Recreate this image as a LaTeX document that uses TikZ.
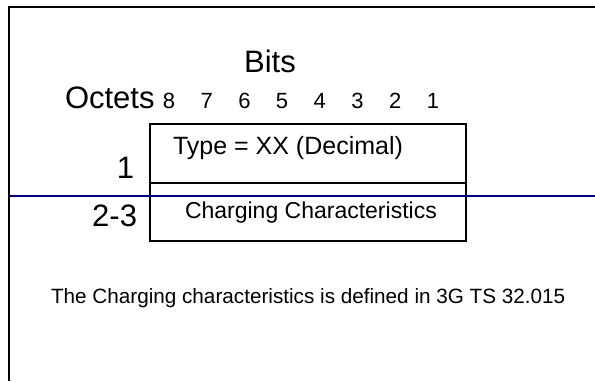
\documentclass[tikz,border=0pt]{standalone}
\usepackage{fontspec}
\setmainfont{Liberation Sans}
\usetikzlibrary{calc}
\definecolor{ruleblue}{RGB}{0,0,128}
\def\fs#1{\fontsize{#1}{#1}\selectfont}

\begin{document}
\begin{tikzpicture}[x=1pt, y=-1pt,
		txt/.style={inner sep=0pt, outer sep=0pt},
		big/.style={txt, font=\fs{31}},
		bit/.style={txt, anchor=base, font=\fs{22}}]
			%%%%% START %%%%%
			\useasboundingbox (0, 0) rectangle (595, 381);
			
			\draw[line width=2pt] (9, 381) -- (9, 6.5) -- (595, 6.5);
			
			\node[big, anchor=base] (bits) at (270, 72) {Bits};
			\node[big, anchor=base west] (octets) at (65, 108) {Octets};
			\foreach \b [count=\i from 0] in {8,7,6,5,4,3,2,1}
				\node[bit] (bit\b) at (169 + 37.7*\i, 108) {\b};
			
			\draw[line width=1.1pt] (150, 124) rectangle (466, 241);
			\draw[line width=1.8pt] (150, 183) -- (466, 183);
			\draw[line width=1.5pt, color=ruleblue] (9, 196) -- (595, 196);
			
			\node[big, anchor=base east] (oct1) at (134, 178) {1};
			\node[big, anchor=base east] (oct23) at (137, 226) {2-3};
			
			\node[txt, anchor=base west, font=\fs{25}] (type) at (173, 154) {Type = XX (Decimal)};
			\node[txt, anchor=base west, font=\fs{23}] (chch) at (185, 218) {Charging Characteristics};
			
			\node[txt, anchor=base west, font=\fs{20.7}] (note) at (51, 303) {The Charging characteristics is defined in 3G TS 32.015};
			%%%%% END %%%%%
		\end{tikzpicture}
\end{document}
